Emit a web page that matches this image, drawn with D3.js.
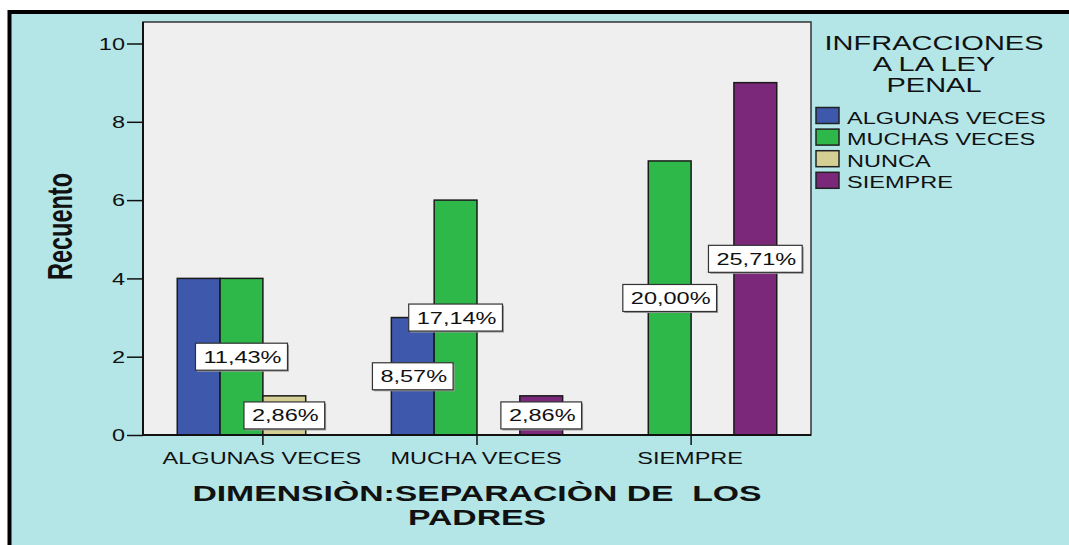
<!DOCTYPE html>
<html>
<head>
<meta charset="utf-8">
<script src="https://cdn.jsdelivr.net/npm/d3@7"></script>
<style>
  body { margin: 0; background: #fff; }
  svg { display: block; }
  text { font-family: "Liberation Sans", Arial, sans-serif; fill: #111; }
</style>
</head>
<body>
<div id="chart"></div>
<script>
// categories on the x axis (DIMENSIÒN: SEPARACIÒN DE LOS PADRES)
var categories = ["ALGUNAS VECES", "MUCHA VECES", "SIEMPRE"];
// legend series (INFRACCIONES A LA LEY PENAL)
var series = ["ALGUNAS VECES", "MUCHAS VECES", "NUNCA", "SIEMPRE"];
// counts per category, one array per series
var algunasVeces = [4, 3, 0];
var muchasVeces = [4, 6, 7];
var nunca = [1, 0, 0];
var siempre = [0, 1, 9];
var yTicks = [0, 2, 4, 6, 8, 10];
var colors = ["#3e58ac", "#2fb84a", "#d6cf94", "#7b287b"];
// label covered by its neighbour in the original: [category, series]
var hiddenLabels = [[0, 0]];

var W = 1069, H = 545,
    plot = {left: 143, right: 811, top: 22, bottom: 435},
    sx = 1.47;

var values = [algunasVeces, muchasVeces, nunca, siempre];
var total = d3.sum(values, function(v) { return d3.sum(v); });

var data = [];
categories.forEach(function(c, ci) {
  series.forEach(function(s, si) {
    data.push({cat: c, ci: ci, ser: s, si: si, value: values[si][ci]});
  });
});

var svg = d3.select("#chart").append("svg")
  .attr("width", W)
  .attr("height", H);

// frame
svg.append("rect")
  .attr("x", 9.5).attr("y", 12)
  .attr("width", W + 20).attr("height", H + 20)
  .attr("fill", "#b4e6e8")
  .attr("stroke", "#000")
  .attr("stroke-width", 4);

svg.append("rect")
  .attr("x", plot.left).attr("y", plot.top)
  .attr("width", plot.right - plot.left).attr("height", plot.bottom - plot.top)
  .attr("fill", "#efefef")
  .attr("stroke", "#333")
  .attr("stroke-width", 1.5);

var x0 = d3.scaleBand()
  .domain(categories)
  .range([plot.left, plot.right])
  .paddingInner(0.2)
  .paddingOuter(0.16);

var x1 = d3.scaleBand()
  .domain(series)
  .range([0, x0.bandwidth()]);

var y = d3.scaleLinear()
  .domain([0, 10])
  .range([plot.bottom, 43.5]);

var z = d3.scaleOrdinal().domain(series).range(colors);

var g = svg.append("g");

g.selectAll(".bar")
  .data(data.filter(function(d) { return d.value > 0; }))
  .enter().append("rect")
    .attr("class", "bar")
    .attr("x", function(d) { return x0(d.cat) + x1(d.ser); })
    .attr("y", function(d) { return y(d.value); })
    .attr("width", x1.bandwidth())
    .attr("height", function(d) { return y(0) - y(d.value); })
    .attr("fill", function(d) { return z(d.ser); })
    .attr("stroke", "#1a1a1a")
    .attr("stroke-width", 1.5);

// axes
var yAxis = svg.append("g")
  .attr("transform", "translate(" + plot.left + ",0)")
  .call(d3.axisLeft(y).tickValues(yTicks).tickSize(16).tickSizeOuter(0));
yAxis.select(".domain").attr("stroke", "#111").attr("stroke-width", 2)
  .attr("d", "M0," + plot.top + "V" + plot.bottom);
yAxis.selectAll(".tick line").attr("stroke", "#111").attr("stroke-width", 1.5);
yAxis.selectAll(".tick text")
  .attr("x", 0).attr("dy", null).attr("y", 0)
  .attr("transform", "translate(-18,5.8) scale(" + sx + ",1)")
  .style("font-size", "16px")
  .attr("fill", "#222");

var xAxis = svg.append("g")
  .attr("transform", "translate(0," + plot.bottom + ")")
  .call(d3.axisBottom(x0).tickSize(10).tickSizeOuter(0));
xAxis.select(".domain").attr("stroke", "#111").attr("stroke-width", 2)
  .attr("d", "M" + plot.left + ",0H" + plot.right);
xAxis.selectAll(".tick line").attr("stroke", "#111").attr("stroke-width", 1.5);
xAxis.selectAll(".tick text")
  .attr("y", 0).attr("dy", null)
  .attr("transform", "translate(-1,28.5) scale(" + sx + ",1)")
  .style("font-size", "16px")
  .attr("fill", "#222");
svg.selectAll("g").attr("font-family", null);

// percentage labels
var fmt = d3.format(".2f");
var labels = data.filter(function(d) {
  return d.value > 0 && !hiddenLabels.some(function(h) { return h[0] === d.ci && h[1] === d.si; });
});
labels.forEach(function(d) {
  var cx = x0(d.cat) + x1(d.ser) + x1.bandwidth() / 2,
      cy = y(d.value / 2);
  var lg = g.append("g");
  var shadow = lg.append("rect").attr("fill", "#9a9a9a");
  var box = lg.append("rect").attr("fill", "#fff").attr("stroke", "#333").attr("stroke-width", 1.2);
  var t = lg.append("text")
    .attr("text-anchor", "middle")
    .attr("transform", "translate(" + (cx + 1) + "," + (cy + 6) + ") scale(" + sx + ",1)")
    .style("font-size", "16px")
    .text(fmt(d.value / total * 100).replace(".", ",") + "%");
  var w = t.node().getComputedTextLength() * sx + 14, h = 27;
  box.attr("x", cx - w / 2).attr("y", cy - h / 2).attr("width", w).attr("height", h);
  shadow.attr("x", cx - w / 2 + 1.5).attr("y", cy - h / 2 + 1.5).attr("width", w).attr("height", h);
});

// axis titles
svg.append("text")
  .attr("text-anchor", "middle")
  .attr("transform", "translate(71.5,226.5) scale(" + sx + ",1) rotate(-90)")
  .style("font-size", "23.5px")
  .style("font-weight", "bold")
  .text("Recuento");

svg.selectAll(".xtitle")
  .data(["DIMENSIÒN:SEPARACIÒN DE  LOS", "PADRES"])
  .enter().append("text")
    .attr("text-anchor", "middle")
    .style("white-space", "pre")
    .attr("transform", function(d, i) { return "translate(477," + (501 + i * 24) + ") scale(1.5,1)"; })
    .style("font-size", "22.5px")
    .style("font-weight", "bold")
    .text(function(d) { return d; });

// legend
svg.selectAll(".ltitle")
  .data(["INFRACCIONES", "A LA LEY", "PENAL"])
  .enter().append("text")
    .attr("text-anchor", "middle")
    .attr("transform", function(d, i) { return "translate(934," + (50 + i * 21) + ") scale(1.45,1)"; })
    .style("font-size", "20px")
    .attr("fill", "#222")
    .text(function(d) { return d; });

var legend = svg.selectAll(".legend")
  .data(series)
  .enter().append("g")
    .attr("class", "legend")
    .attr("transform", function(d, i) { return "translate(816," + (107.5 + i * 21.6) + ")"; });

legend.append("rect")
  .attr("width", 23).attr("height", 16)
  .attr("fill", z)
  .attr("stroke", "#222")
  .attr("stroke-width", 1.5);

legend.append("text")
  .attr("transform", "translate(31,16) scale(" + sx + ",1)")
  .style("font-size", "16px")
  .attr("fill", "#222")
  .text(function(d) { return d; });
</script>
</body>
</html>
